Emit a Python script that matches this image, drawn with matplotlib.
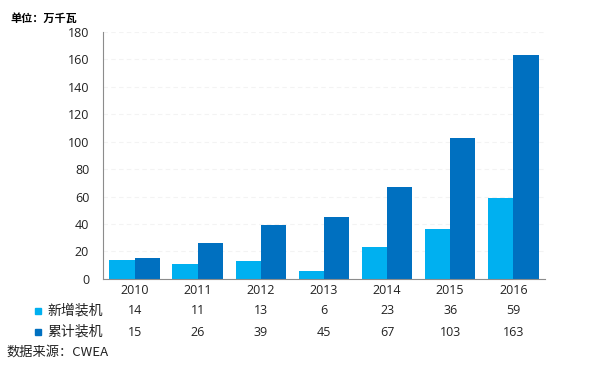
import numpy as np
import matplotlib
matplotlib.use("Agg")
import matplotlib.pyplot as plt
from matplotlib.transforms import blended_transform_factory

plt.rcParams['font.family'] = ['Open Sans', 'Noto Sans CJK SC', 'DejaVu Sans']

years = ['2010', '2011', '2012', '2013', '2014', '2015', '2016']
new_install = [14, 11, 13, 6, 23, 36, 59]
total_install = [15, 26, 39, 45, 67, 103, 163]
series_names = ['新增装机', '累计装机']
colors = ['#00B0F0', '#0070C0']

fig = plt.figure(figsize=(5.89, 3.66), dpi=100)
ax = fig.add_axes([0.175, 0.238, 0.750, 0.675])

x = np.arange(len(years))
w = 0.4
ax.bar(x - w / 2, new_install, w, color=colors[0], zorder=2)
ax.bar(x + w / 2, total_install, w, color=colors[1], zorder=2)

ax.set_xlim(-0.5, len(years) - 0.5)
ax.set_ylim(0, 180)
ax.set_yticks(range(0, 181, 20))
ax.yaxis.grid(True, color='#f3f3f3', linestyle=(0, (4, 3)), linewidth=0.8, zorder=0)
ax.set_xticks(x)
ax.set_xticklabels(years)
ax.tick_params(axis='both', length=0, labelsize=9, colors='#222222')
ax.tick_params(axis='y', pad=10)
ax.tick_params(axis='x', pad=4)
for s in ['top', 'right']:
    ax.spines[s].set_visible(False)
ax.spines['left'].set_color('#8c8c8c')
ax.spines['bottom'].set_color('#8c8c8c')

# data table under the chart
tr = blended_transform_factory(ax.transData, fig.transFigure)
rows_y = [1 - 311 / 366, 1 - 332 / 366]
for vals, name, c, yy in zip([new_install, total_install], series_names, colors, rows_y):
    fig.patches.append(plt.Rectangle((35 / 589, yy - 3 / 366), 6 / 589, 6 / 366,
                                     transform=fig.transFigure, color=c))
    fig.text(47 / 589, yy, name, fontsize=10, va='center', ha='left',
             family=['Noto Sans CJK SC', 'DejaVu Sans'], color='#222222')
    for xi, v in zip(x, vals):
        ax.text(xi, yy, str(v), transform=tr, ha='center', va='center',
                fontsize=9, color='#222222')

fig.text(10 / 589, 1 - 18 / 366, '单位：万千瓦', fontsize=8, fontweight='bold',
         va='center', ha='left', family=['Noto Sans CJK SC', 'DejaVu Sans'])
fig.text(6 / 589, 1 - 352 / 366, '数据来源：CWEA', fontsize=9.5, va='center', ha='left',
         family=['Noto Sans CJK SC', 'DejaVu Sans'], color='#222222')

fig.savefig('out.png', dpi=100, facecolor='white')
